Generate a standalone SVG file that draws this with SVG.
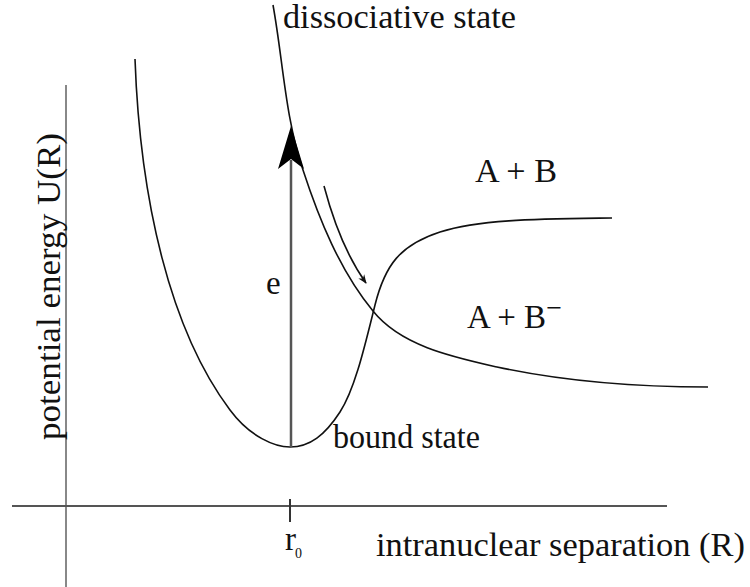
<svg xmlns="http://www.w3.org/2000/svg" width="750" height="587" viewBox="0 0 750 587">
<style>
text{font-family:"Times New Roman",Times,"Liberation Serif","Noto Serif","DejaVu Serif",serif;font-size:33px;fill:#111}
.curve{fill:none;stroke:#111;stroke-width:1.6}
.axis{fill:none;stroke-width:2}
</style>
<defs>
<marker id="small" viewBox="0 0 10 10" refX="9" refY="5" markerWidth="9" markerHeight="9" markerUnits="userSpaceOnUse" orient="auto">
<path d="M0,1 L10,5 L0,9 L3,5 Z" fill="#111"/>
</marker>
</defs>
<rect width="750" height="587" fill="#fff"/>
<g id="axes">
<line class="axis" x1="66" y1="85" x2="66" y2="587" stroke="#888"/>
<line class="axis" x1="12" y1="506" x2="667" y2="506" stroke="#555"/>
<line x1="290" y1="499" x2="290" y2="522" stroke="#333" stroke-width="2"/>
<text transform="translate(60,440) rotate(-90)" textLength="307" lengthAdjust="spacingAndGlyphs">potential energy U(R)</text>
<text x="376" y="556" textLength="369" lengthAdjust="spacingAndGlyphs">intranuclear separation (R)</text>
<text x="285" y="550">r</text>
<text x="295" y="558" style="font-size:14px">0</text>
</g>
<g id="connectors">
<g id="bound-state">
<path class="curve" d="M135,59 C140,200 170,330 230,410 C250,437 275,447 290,447 C310,447 325,435 340,412 C355,389 365,345 375,305 C385,265 400,245 440,232 C480,219 540,219 612,218"/>
<text x="333" y="448" textLength="147" lengthAdjust="spacingAndGlyphs">bound state</text>
</g>
<g id="dissociative-state">
<path class="curve" d="M273,5 C283,60 285,117 303,170 C319,219 340,271 373,311 C401,346 453,357 497,367 C562,381 640,387 708,387"/>
<text x="283" y="28" textLength="233" lengthAdjust="spacingAndGlyphs">dissociative state</text>
</g>
<g id="excitation">
<line x1="291" y1="447" x2="291" y2="160" stroke="#555" stroke-width="2.5"/>
<polygon points="291,126 278,169 291,159 304,169" fill="#000"/>
<text x="266" y="294">e</text>
</g>
<path id="slide" class="curve" d="M324,186 C333,220 346,255 366,283" marker-end="url(#small)"/>
</g>
<g id="labels">
<text x="475" y="182" textLength="82" lengthAdjust="spacingAndGlyphs">A + B</text>
<text x="467" y="328">A + B<tspan dy="-11" style="font-size:28px">−</tspan></text>
</g>
</svg>
